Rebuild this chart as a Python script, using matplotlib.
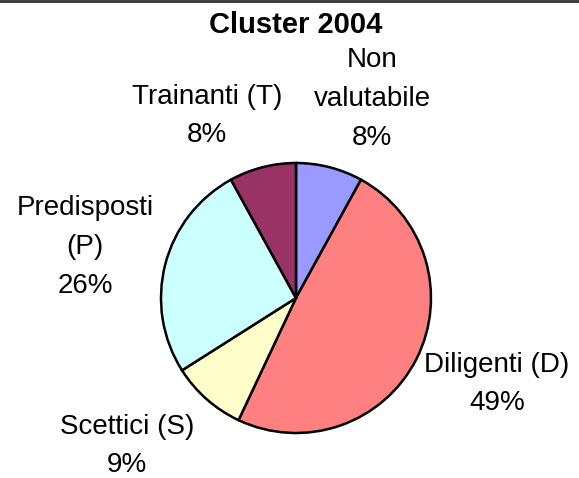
import matplotlib.pyplot as plt
from matplotlib.lines import Line2D

plt.rcParams['font.family'] = ['Liberation Sans', 'DejaVu Sans']

# data (clockwise from 12 o'clock)
categories = ["Non\nvalutabile", "Diligenti (D)", "Scettici (S)", "Predisposti\n(P)", "Trainanti (T)"]
shares = [8, 49, 9, 26, 8]
colors = ["#9999FF", "#FF8080", "#FFFFCC", "#CCFFFF", "#993366"]

W, H = 579, 478
fig = plt.figure(figsize=(W / 100, H / 100), dpi=100)
ax = fig.add_axes([0, 0, 1, 1])
ax.set_xlim(0, W)
ax.set_ylim(0, H)
ax.set_aspect("equal")
ax.axis("off")

ax.pie(shares, colors=colors, startangle=90, counterclock=False,
       center=(296, H - 298), radius=135,
       wedgeprops=dict(edgecolor="black", linewidth=1.8))
ax.set_xlim(0, W)
ax.set_ylim(0, H)

# label anchor points (pixel coords, top-left origin)
label_pos = [(372, 99), (497, 384), (127, 446), (85, 247), (207, 116)]
for name, val, (x, y) in zip(categories, shares, label_pos):
    ax.text(x, H - y, f"{name}\n{val}%", ha="center", va="center",
            fontsize=20, linespacing=1.64)

ax.text(296, H - 25, "Cluster 2004", ha="center", va="center",
        fontsize=21, fontweight="bold")

fig.add_artist(Line2D([0, 1], [1 - 1 / H, 1 - 1 / H], color="#333333", linewidth=2,
                      transform=fig.transFigure))

fig.savefig("out.png", dpi=100)
